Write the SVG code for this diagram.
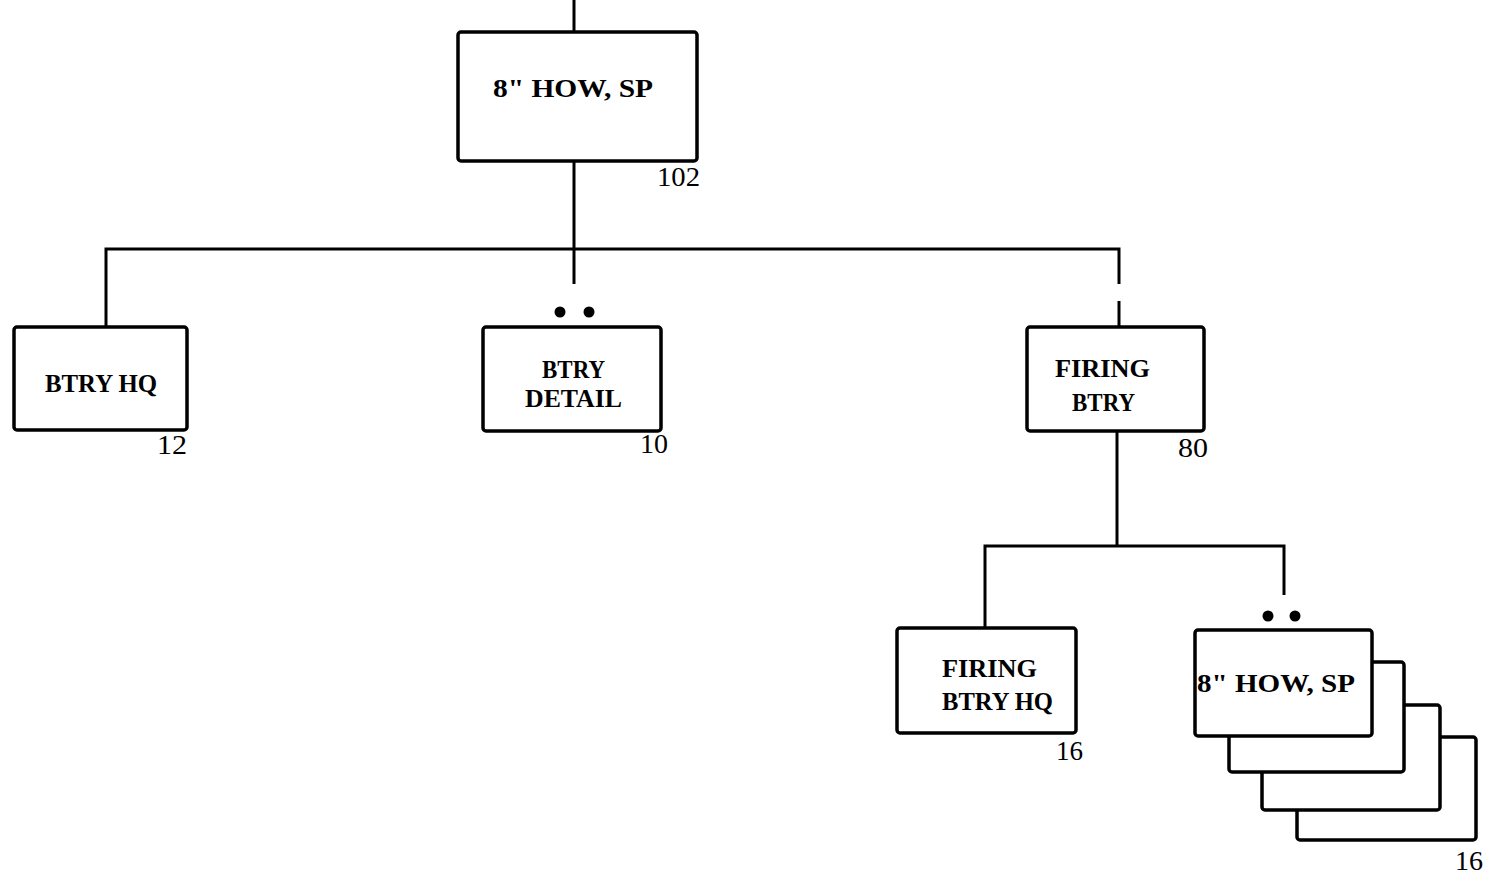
<svg xmlns="http://www.w3.org/2000/svg" width="1492" height="878" viewBox="0 0 1492 878">
<style>
.box{fill:#fff;stroke:#000;stroke-width:3.5;stroke-linejoin:round}
.ln{stroke:#000;stroke-width:3;fill:none;stroke-linecap:butt}
.lbl{font-family:"Liberation Serif","DejaVu Serif",serif;font-weight:bold;font-size:26px;fill:#000}
.num{font-family:"Liberation Serif","DejaVu Serif",serif;font-size:27px;fill:#000}
.dot{fill:#000}
</style>
<rect width="1492" height="878" fill="#fff"/>
<g id="connectors">
<path class="ln" d="M574,0 V32"/>
<path class="ln" d="M574,161 V284"/>
<path class="ln" d="M106,327 V249 H1119 V284"/>
<path class="ln" d="M1119,301 V327"/>
<path class="ln" d="M1117,431 V546"/>
<path class="ln" d="M985,628 V546 H1284 V595"/>
</g>
<g id="node-how-top">
<rect class="box" x="458" y="32" width="239" height="129" rx="3"/>
<text class="lbl" x="493" y="97" textLength="160" lengthAdjust="spacingAndGlyphs">8" HOW, SP</text>
<text class="num" x="657" y="186" textLength="43" lengthAdjust="spacingAndGlyphs">102</text>
</g>
<g id="node-btry-hq">
<rect class="box" x="14" y="327" width="173" height="103" rx="3"/>
<text class="lbl" x="45" y="392" textLength="112" lengthAdjust="spacingAndGlyphs">BTRY HQ</text>
<text class="num" x="157" y="454" textLength="30" lengthAdjust="spacingAndGlyphs">12</text>
</g>
<g id="node-btry-detail">
<circle class="dot" cx="560" cy="312" r="5.5"/>
<circle class="dot" cx="589" cy="312" r="5.5"/>
<rect class="box" x="483" y="327" width="178" height="104" rx="3"/>
<text class="lbl" x="542" y="378" textLength="63" lengthAdjust="spacingAndGlyphs">BTRY</text>
<text class="lbl" x="525" y="407" textLength="97" lengthAdjust="spacingAndGlyphs">DETAIL</text>
<text class="num" x="640" y="453" textLength="28" lengthAdjust="spacingAndGlyphs">10</text>
</g>
<g id="node-firing-btry">
<rect class="box" x="1027" y="327" width="177" height="104" rx="3"/>
<text class="lbl" x="1055" y="377" textLength="95" lengthAdjust="spacingAndGlyphs">FIRING</text>
<text class="lbl" x="1072" y="411" textLength="63" lengthAdjust="spacingAndGlyphs">BTRY</text>
<text class="num" x="1178" y="457" textLength="30" lengthAdjust="spacingAndGlyphs">80</text>
</g>
<g id="node-firing-btry-hq">
<rect class="box" x="897" y="628" width="179" height="105" rx="3"/>
<text class="lbl" x="942" y="677" textLength="95" lengthAdjust="spacingAndGlyphs">FIRING</text>
<text class="lbl" x="942" y="710" textLength="111" lengthAdjust="spacingAndGlyphs">BTRY HQ</text>
<text class="num" x="1056" y="760" textLength="27" lengthAdjust="spacingAndGlyphs">16</text>
</g>
<g id="node-how-stack">
<rect class="box" x="1297" y="737" width="179" height="103" rx="3"/>
<rect class="box" x="1262" y="705" width="178" height="105" rx="3"/>
<rect class="box" x="1229" y="662" width="175" height="110" rx="3"/>
<circle class="dot" cx="1268" cy="616" r="5.5"/>
<circle class="dot" cx="1295" cy="616" r="5.5"/>
<rect class="box" x="1195" y="630" width="177" height="106" rx="3"/>
<text class="lbl" x="1197" y="692" textLength="158" lengthAdjust="spacingAndGlyphs">8" HOW, SP</text>
<text class="num" x="1455" y="870" font-size="25" textLength="28" lengthAdjust="spacingAndGlyphs">16</text>
</g>
</svg>
